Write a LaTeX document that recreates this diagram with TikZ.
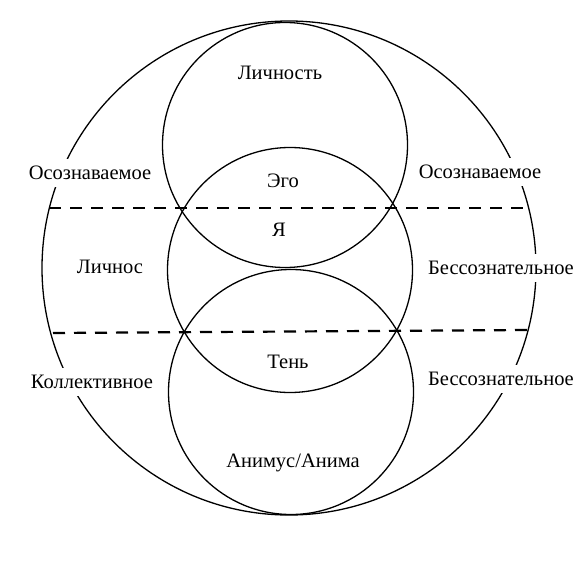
\documentclass[tikz,border=0pt]{standalone}
\usepackage{fontspec}
\setmainfont{Liberation Serif}
\begin{document}
\begin{tikzpicture}[x=1pt,y=-1pt,line width=1.3pt,
  lbl/.style={font=\fontsize{20.5}{23}\selectfont},
  gap/.style={lbl,fill=white,inner xsep=4pt,inner ysep=7pt},
  divide/.style={line width=2.2pt,dash pattern=on 12pt off 9pt}]
\useasboundingbox (0,0) rectangle (588,564);
% centres
\coordinate (whole) at (289,268);
\coordinate (persona) at (285,145);
\coordinate (self) at (290,270);
\coordinate (shadow) at (291,392);
\draw (whole) circle (247pt);
\draw (persona) circle (122.5pt);
\draw (self) circle (122.5pt);
\draw (shadow) circle (122.5pt);
% borders
\coordinate (u1) at (49,208); \coordinate (u2) at (524,208);
\coordinate (l1) at (53,333); \coordinate (l2) at (528,330);
\draw[divide] (u1) -- (u2);
\draw[divide] (l1) -- (l2);
% labels
\node[lbl] (pers) at (280,73) {Личность};
\node[lbl] (ego) at (283,181) {Эго};
\node[lbl] (ja) at (279,230) {Я};
\node[lbl] (ten) at (288,362) {Тень};
\node[lbl] (anim) at (293,463) {Анимус/Анима};
\node[lbl] (lich) at (110,267) {Личнос};
\node[gap] (osl) at (90,173) {Осознаваемое};
\node[gap] (osr) at (480,172) {Осознаваемое};
\node[gap] (bsu) at (501,268) {Бессознательное};
\node[gap] (kol) at (92,382) {Коллективное};
\node[gap] (bsl) at (501,379) {Бессознательное};
\end{tikzpicture}
\end{document}
